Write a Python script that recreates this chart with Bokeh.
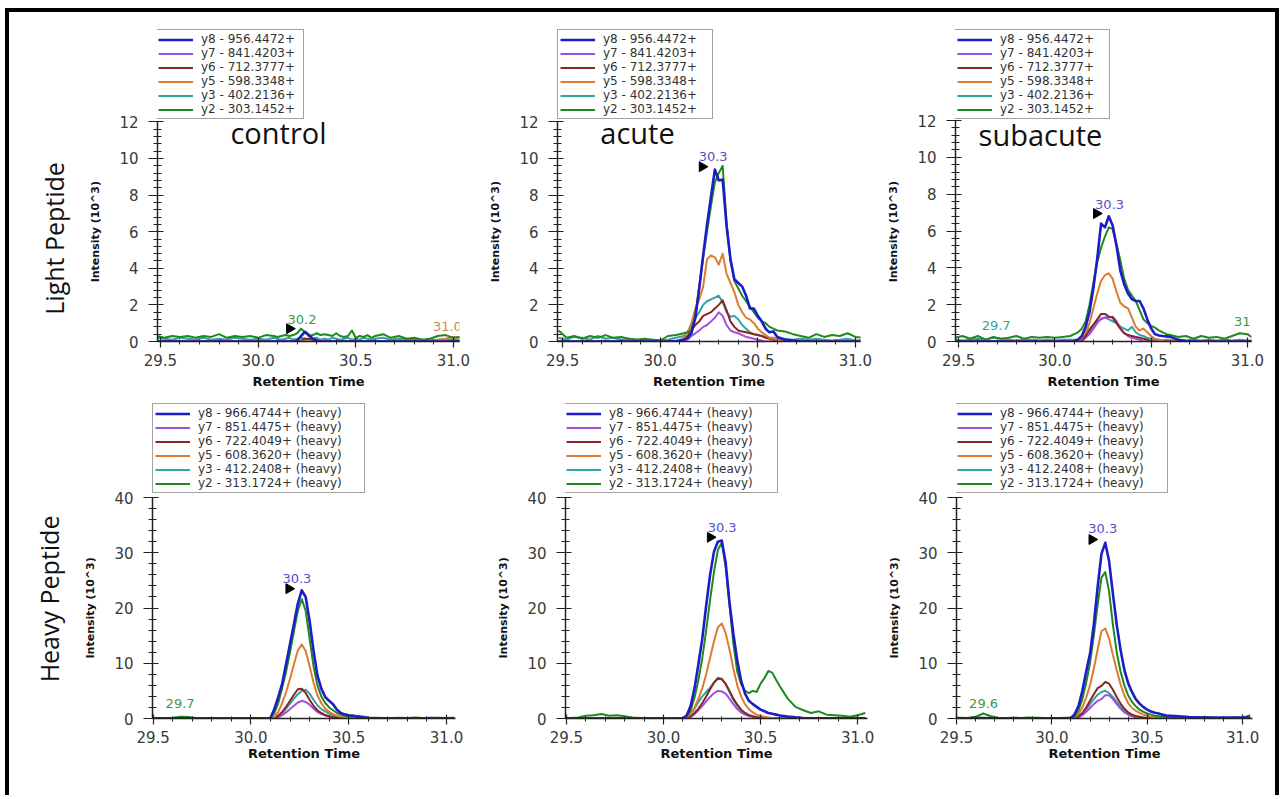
import numpy as np
from bokeh.plotting import figure
from bokeh.models import (Legend, LegendItem, Label, SingleIntervalTicker, FixedTicker,
                          NumeralTickFormatter, Range1d, ColumnDataSource, LinearAxis)
from bokeh.layouts import row, column
from bokeh.embed import file_html
from bokeh.resources import INLINE
from bokeh.core.properties import value

# ---------------- data ----------------
T = [29.48, 29.52, 29.56, 29.60, 29.64, 29.68, 29.72, 29.76, 29.80, 29.84, 29.88, 29.92, 29.96, 30.00, 30.04, 30.08,
     30.10, 30.12, 30.14, 30.16, 30.18, 30.20, 30.22, 30.24, 30.26, 30.28, 30.30, 30.32, 30.34, 30.36, 30.38, 30.40,
     30.42, 30.44, 30.46, 30.48, 30.50, 30.52, 30.54, 30.56, 30.58, 30.60,
     30.64, 30.68, 30.72, 30.76, 30.80, 30.84, 30.88, 30.92, 30.96, 31.00, 31.04]

LIGHT_IONS = ["y8 - 956.4472+", "y7 - 841.4203+", "y6 - 712.3777+",
              "y5 - 598.3348+", "y3 - 402.2136+", "y2 - 303.1452+"]
HEAVY_IONS = ["y8 - 966.4744+ (heavy)", "y7 - 851.4475+ (heavy)", "y6 - 722.4049+ (heavy)",
              "y5 - 608.3620+ (heavy)", "y3 - 412.2408+ (heavy)", "y2 - 313.1724+ (heavy)"]
CONDITIONS = ["control", "acute", "subacute"]
ROW_LABELS = ["Light Peptide", "Heavy Peptide"]

# control, light
ctl_L_y8 = [0,0,0,0,0,0,0,0,0,0,0,0,0,0,0,0,
            0,0,0,0,0,0.05,0.3,0.53,0.35,0.15,0.05,0,0,0,0,0,0,0,0,0,0,0,0,0,0,0,
            0,0,0,0,0,0,0,0,0,0,0]
ctl_L_y7 = [0,0,0,0,0,0,0,0,0,0,0,0,0,0,0,0,
            0,0,0,0,0,0,0,0.1,0.15,0.1,0,0,0,0,0,0,0,0,0,0,0,0,0,0,0,0,
            0,0,0,0,0,0,0,0,0,0,0]
ctl_L_y6 = [0,0,0,0,0,0,0,0,0,0,0,0,0,0,0,0,
            0,0,0,0,0,0,0.05,0.15,0.15,0.1,0.05,0,0,0,0,0,0,0,0,0,0,0,0,0,0,0,
            0,0,0,0,0,0,0,0,0,0,0]
ctl_L_y5 = [0,0,0,0,0,0,0,0,0,0,0,0,0,0,0,0,
            0,0,0,0,0,0,0,0,0,0,0,0,0,0,0,0,0,0,0,0,0,0,0,0,0,0,
            0,0,0,0,0,0,0.05,0.1,0.15,0.25,0.2]
ctl_L_y3 = [0.2,0.15,0.1,0.2,0.15,0.1,0.2,0.1,0.15,0.1,0.2,0.15,0.1,0.15,0.1,0.2,
            0.15,0.1,0.15,0.2,0.1,0.15,0.2,0.15,0.1,0.15,0.2,0.1,0.15,0.1,0.2,0.15,0.1,0.15,0.2,0.1,0.15,0.1,0.2,0.15,0.1,0.15,
            0.2,0.1,0.15,0.1,0.15,0.1,0.05,0.1,0.15,0.1,0.1]
ctl_L_y2 = [0.3,0.2,0.3,0.25,0.3,0.2,0.3,0.25,0.4,0.2,0.3,0.25,0.3,0.2,0.35,0.3,
            0.25,0.3,0.35,0.3,0.35,0.45,0.7,0.5,0.3,0.35,0.45,0.35,0.4,0.35,0.3,0.45,0.3,0.25,0.3,0.6,0.2,0.3,0.25,0.35,0.2,0.3,
            0.4,0.2,0.3,0.15,0.2,0.1,0.15,0.3,0.35,0.2,0.25]

# acute, light
acu_L_y8 = [0,0,0,0,0,0,0,0,0,0,0,0,0,0,0,0.02,
            0.05,0.1,0.2,0.45,1.3,2.9,4.7,6.4,7.9,9.4,8.8,8.85,6.3,4.5,3.4,3.2,3.0,2.5,1.8,1.8,1.4,1.1,0.7,0.5,0.55,0.25,
            0.1,0.05,0,0,0,0,0,0,0,0,0]
acu_L_y7 = [0,0,0,0,0,0,0,0,0,0,0,0,0,0,0,0,
            0,0,0.1,0.3,0.45,0.6,0.8,0.9,1.1,1.3,1.6,1.4,0.9,0.6,0.5,0.45,0.35,0.25,0.2,0.15,0.1,0.05,0,0,0,0,
            0,0,0,0,0,0,0,0,0,0,0]
acu_L_y6 = [0,0,0,0,0,0,0,0,0,0,0,0,0,0,0,0,
            0,0.1,0.3,0.6,0.9,1.1,1.4,1.5,1.6,1.8,2.0,2.25,1.7,1.1,0.8,0.6,0.55,0.5,0.45,0.4,0.35,0.3,0.2,0.15,0.1,0.05,
            0,0,0,0,0,0,0,0,0,0,0]
acu_L_y5 = [0,0,0,0,0,0,0,0,0,0,0,0,0,0,0,0,
            0.05,0.2,0.5,1.0,1.8,2.3,3.0,4.5,4.7,4.6,4.2,4.8,3.7,3.2,2.7,2.0,1.6,1.3,1.2,1.0,0.7,0.5,0.35,0.2,0.15,0.1,
            0,0,0,0,0,0,0,0,0,0,0]
acu_L_y3 = [0.2,0.1,0.25,0.2,0.1,0.3,0.15,0.2,0.1,0.15,0.1,0.05,0.1,0.05,0.1,0.2,
            0.25,0.3,0.5,0.8,1.3,1.6,2.0,2.2,2.3,2.4,2.5,2.15,1.6,1.35,1.4,1.2,0.9,0.7,0.5,0.4,0.35,0.3,0.25,0.2,0.2,0.15,
            0.15,0.1,0.15,0.1,0.15,0.1,0.05,0.1,0.15,0.05,0.1]
acu_L_y2 = [0.6,0.2,0.3,0.15,0.3,0.2,0.35,0.2,0.25,0.15,0.1,0.15,0.1,0.05,0.3,0.35,
            0.4,0.45,0.5,0.6,1.4,3.0,4.6,6.0,7.4,8.7,9.2,9.6,6.5,4.4,3.3,2.9,2.5,2.2,1.9,1.6,1.3,1.1,1.0,0.8,0.7,0.6,
            0.55,0.4,0.3,0.2,0.4,0.25,0.35,0.3,0.45,0.25,0.2]

# subacute, light
sub_L_y8 = [0,0,0,0,0,0,0,0,0,0,0,0,0,0,0,0,
            0,0.1,0.3,0.8,1.6,2.9,4.5,6.4,6.2,6.8,6.3,5.2,3.85,3.1,2.6,2.3,2.2,2.2,1.8,1.2,0.7,0.4,0.33,0.3,0.28,0.25,
            0.1,0.03,0,0,0,0,0,0,0,0,0]
sub_L_y7 = [0,0,0,0,0,0,0,0,0,0,0,0,0,0,0,0,
            0,0,0,0.2,0.4,0.7,1.0,1.25,1.3,1.3,1.35,1.1,0.7,0.45,0.3,0.2,0.15,0.1,0,0,0,0,0,0,0,0,
            0,0,0,0,0,0,0,0,0,0,0]
sub_L_y6 = [0,0,0,0,0,0,0,0,0,0,0,0,0,0,0,0,
            0,0,0.1,0.3,0.6,0.9,1.2,1.5,1.5,1.35,1.3,1.0,0.7,0.45,0.35,0.3,0.25,0.2,0.15,0.1,0,0,0,0,0,0,
            0,0,0,0,0,0,0,0,0,0,0]
sub_L_y5 = [0,0,0,0,0,0,0,0,0,0,0,0,0,0,0,0,
            0,0.05,0.2,0.5,1.0,1.8,2.6,3.3,3.6,3.7,3.4,2.7,2.1,1.9,1.8,1.3,0.8,0.6,0.7,0.5,0.3,0.15,0.1,0,0,0,
            0,0,0,0,0,0,0,0,0,0,0]
sub_L_y3 = [0.1,0.05,0.1,0.15,0.1,0.2,0.15,0.1,0.05,0.1,0.1,0.05,0.1,0.05,0.1,0.1,
            0.1,0.1,0.2,0.4,0.7,0.9,1.1,1.2,1.3,1.2,1.1,1.0,0.8,0.7,0.6,0.8,0.5,0.35,0.3,0.2,0.15,0.1,0.1,0.05,0.1,0.05,
            0.1,0.05,0.1,0.05,0.1,0.05,0.1,0.05,0.1,0.05,0.05]
sub_L_y2 = [0.2,0.3,0.15,0.3,0.1,0.25,0.15,0.2,0.3,0.15,0.25,0.2,0.25,0.2,0.25,0.3,
            0.4,0.5,0.7,1.1,2.0,3.2,4.3,5.1,5.7,6.2,6.1,5.3,4.4,3.4,2.8,2.5,2.2,1.7,1.2,1.0,0.85,0.75,0.6,0.5,0.4,0.35,
            0.25,0.3,0.15,0.3,0.2,0.25,0.15,0.3,0.45,0.4,0.1]

# control, heavy
ctl_H_y8 = [0.05,0.05,0,0.05,0,0.05,0,0,0.05,0,0,0.05,0,0,0.05,0.05,
            0.1,1.7,3.9,6.3,9.9,13.5,17.1,20.8,23.2,22.0,17.7,12.3,7.8,5.4,3.9,3.2,2.6,1.6,1.0,0.75,0.6,0.55,0.35,0.25,0.15,0.1,
            0.05,0.05,0.05,0.05,0.05,0.05,0.05,0.1,0.05,0.05,0.1]
ctl_H_y7 = [0,0,0,0,0,0,0,0,0,0,0,0,0,0,0,0,
            0,0,0.2,0.6,1.1,1.7,2.3,2.9,3.2,3.0,2.5,1.8,1.2,0.8,0.6,0.4,0.25,0.15,0.1,0,0,0,0,0,0,0,
            0,0,0,0,0,0,0,0,0,0,0]
ctl_H_y6 = [0,0,0,0,0,0,0,0,0,0,0,0,0,0,0,0,
            0,0.1,0.5,1.2,2.1,3.2,4.3,5.3,5.4,4.6,3.4,2.3,1.5,1.0,0.6,0.4,0.25,0.15,0.1,0,0,0,0,0,0,0,
            0,0,0,0,0,0,0,0,0,0,0]
ctl_H_y5 = [0,0,0,0,0,0,0,0,0,0,0,0,0,0,0,0,
            0,0.3,1.2,2.8,4.8,7.2,9.8,12.3,13.4,12.2,9.5,6.5,4.2,2.8,1.8,1.2,0.8,0.5,0.3,0.2,0.1,0,0,0,0,0,
            0,0,0,0,0,0,0,0,0,0,0]
ctl_H_y3 = [0,0,0,0,0,0,0,0,0,0,0,0,0,0,0,0,
            0,0.1,0.4,1.0,1.8,2.7,3.6,4.4,5.0,5.2,4.5,3.4,2.4,1.7,1.3,0.9,0.6,0.4,0.25,0.15,0.1,0,0,0,0,0,
            0,0,0,0,0,0,0,0,0,0,0]
ctl_H_y2 = [0.1,0.05,0.1,0.15,0.3,0.25,0.1,0.05,0.1,0.05,0.1,0.05,0.05,0.1,0.05,0.1,
            0.05,1.0,2.8,5.5,8.5,12.0,15.8,19.5,21.6,19.5,14.5,9.5,6.0,4.0,2.8,2.0,1.5,1.0,0.7,0.5,0.4,0.3,0.5,0.4,0.3,0.2,
            0.15,0.1,0.1,0.15,0.1,0.2,0.1,0.1,0.15,0.1,0.1]

# acute, heavy
acu_H_y8 = [0,0,0,0,0,0,0,0,0,0,0,0,0,0,0,0,
            0,0.6,2.3,5.5,9.9,14.5,20.5,26.0,30.2,32.0,32.2,28.3,21.0,15.3,10.5,6.8,4.5,3.2,2.6,2.1,1.6,1.3,1.0,0.85,0.7,0.55,
            0.35,0.2,0.1,0.05,0.05,0.05,0.05,0.05,0.05,0.05,0.05]
acu_H_y7 = [0,0,0,0,0,0,0,0,0,0,0,0,0,0,0,0,
            0,0,0.3,0.8,1.5,2.3,3.1,3.9,4.6,5.0,4.9,4.5,3.6,2.6,1.7,1.1,0.7,0.45,0.3,0.2,0.1,0,0,0,0,0,
            0,0,0,0,0,0,0,0,0,0,0]
acu_H_y6 = [0,0,0,0,0,0,0,0,0,0,0,0,0,0,0,0,
            0,0.1,0.4,1.0,1.8,2.8,4.0,5.3,6.5,7.2,7.1,6.3,5.0,3.6,2.5,1.6,1.0,0.6,0.4,0.25,0.15,0.1,0,0,0,0,
            0,0,0,0,0,0,0,0,0,0,0]
acu_H_y5 = [0,0,0,0,0,0,0,0,0,0,0,0,0,0,0,0,
            0,0.2,0.8,2.0,3.6,5.5,8.0,11.0,14.0,16.5,17.2,15.5,12.5,9.0,6.0,4.0,2.6,1.7,1.1,0.7,0.45,0.3,0.2,0.1,0,0,
            0,0,0,0,0,0,0,0,0,0,0]
acu_H_y3 = [0,0,0,0,0,0,0,0,0,0,0,0,0,0,0,0,
            0,0.2,0.8,1.8,3.0,4.0,4.8,5.6,6.5,7.4,7.2,6.2,4.8,3.4,2.3,1.5,1.0,0.6,0.4,0.25,0.15,0.1,0.1,0.05,0.05,0.05,
            0,0,0,0,0,0,0,0,0,0,0]
acu_H_y2 = [0.1,0.1,0.2,0.5,0.6,0.8,0.5,0.6,0.4,0.2,0.1,0.1,0.05,0.05,0.1,0.1,
            0.1,0.3,1.5,3.8,7.0,11.0,16.0,21.5,26.5,30.5,31.8,27.5,20.5,13.5,8.5,6.2,5.0,4.6,5.0,4.8,6.3,7.3,8.6,8.3,7.0,5.8,
            3.6,2.1,1.5,1.0,1.3,0.7,0.6,0.5,0.3,0.6,1.0]

# subacute, heavy
sub_H_y8 = [0.05,0.05,0.05,0.1,0.1,0.05,0.05,0.05,0.05,0.05,0.05,0.05,0.05,0.05,0.05,0.05,
            0.05,0.8,2.3,5.0,8.5,11.7,17.0,23.8,29.8,31.8,28.5,22.6,17.0,12.5,8.8,6.4,4.8,3.5,2.7,2.05,1.6,1.25,1.05,0.9,0.7,0.55,
            0.45,0.35,0.25,0.2,0.15,0.15,0.15,0.15,0.15,0.15,0.15]
sub_H_y7 = [0,0,0,0,0,0,0,0,0,0,0,0,0,0,0,0,
            0,0,0.2,0.6,1.2,1.9,2.6,3.2,3.5,4.2,4.2,3.5,2.6,1.8,1.1,0.7,0.4,0.25,0.15,0.1,0,0,0,0,0,0,
            0,0,0,0,0,0,0,0,0,0,0]
sub_H_y6 = [0,0,0,0,0,0,0,0,0,0,0,0,0,0,0,0,
            0,0.1,0.4,1.0,2.0,3.2,4.4,5.5,5.9,6.6,6.3,5.2,3.9,2.7,1.8,1.1,0.7,0.45,0.3,0.2,0.1,0,0,0,0,0,
            0,0,0,0,0,0,0,0,0,0,0]
sub_H_y5 = [0,0,0,0,0,0,0,0,0,0,0,0,0,0,0,0,
            0,0.2,0.8,2.0,3.8,6.0,9.0,12.5,15.8,16.3,14.5,11.5,8.8,6.2,4.2,2.8,1.9,1.4,1.0,0.7,0.5,0.3,0.2,0.15,0.1,0.1,
            0.05,0.05,0.05,0,0,0,0,0,0,0,0]
sub_H_y3 = [0,0,0,0,0,0,0,0,0,0,0,0,0,0,0,0,
            0,0,0.3,0.8,1.6,2.6,3.5,4.3,4.8,5.0,4.6,3.9,3.0,2.1,1.4,0.9,0.6,0.4,0.25,0.15,0.1,0,0,0,0,0,
            0,0,0,0,0,0,0,0,0,0,0]
sub_H_y2 = [0.1,0.15,0.1,0.3,0.9,0.4,0.15,0.1,0.15,0.1,0.2,0.15,0.1,0.1,0.1,0.15,
            0.15,0.4,1.5,3.5,6.5,10.0,15.0,20.5,25.5,26.5,23.0,17.0,12.0,8.5,6.0,4.2,3.0,2.2,1.6,1.2,0.9,0.7,0.5,0.4,0.3,0.25,
            0.2,0.15,0.2,0.15,0.3,0.15,0.1,0.1,0.2,0.1,0.6]

# peak annotations (label text, retention time, intensity) and apex arrows
ANN_TEXT = [["30.2", "31.0"], ["30.3"], ["30.3", "29.7", "31.0"],
            ["30.3", "29.7"], ["30.3"], ["30.3", "29.6"]]
ANN_X = [[30.225, 30.969], [30.271], [30.284, 29.695, 31.005],
         [30.235, 29.638], [30.302], [30.267, 29.642]]
ANN_Y = [[1.19, 0.8], [10.1], [7.44, 0.87, 1.09],
         [25.3, 2.7], [34.6], [34.4, 2.7]]
ANN_COLOR = [["#3c9c3c", "#d08848"], ["#5252d2"], ["#5252d2", "#3aa2a2", "#3c9c3c"],
             ["#5252d2", "#3c9c3c"], ["#5252d2"], ["#5252d2", "#3c9c3c"]]
ARROW_X = [[30.161], [30.215], [30.216], [30.194], [30.241], [30.21]]
ARROW_Y = [[0.7], [9.55], [6.95], [23.5], [32.8], [32.4]]

# ---------------- styling ----------------
ION_COLORS = ["#1c1cc8", "#a24ede", "#8c2424", "#e07a30", "#2ea4a4", "#1f881f"]
ION_WIDTHS = [2.6, 2, 2, 2, 2, 2]
DRAW_ORDER = [4, 1, 2, 3, 5, 0]

SERIES = [
    [ctl_L_y8, ctl_L_y7, ctl_L_y6, ctl_L_y5, ctl_L_y3, ctl_L_y2],
    [acu_L_y8, acu_L_y7, acu_L_y6, acu_L_y5, acu_L_y3, acu_L_y2],
    [sub_L_y8, sub_L_y7, sub_L_y6, sub_L_y5, sub_L_y3, sub_L_y2],
    [ctl_H_y8, ctl_H_y7, ctl_H_y6, ctl_H_y5, ctl_H_y3, ctl_H_y2],
    [acu_H_y8, acu_H_y7, acu_H_y6, acu_H_y5, acu_H_y3, acu_H_y2],
    [sub_H_y8, sub_H_y7, sub_H_y6, sub_H_y5, sub_H_y3, sub_H_y2],
]

# geometry per panel: width, height, borders (l, r, t, b), x range, legend offset, label width
AXIS_PX = 221   # pixel height of the 0..max part of each intensity axis
GEOM = [
    dict(w=471, h=383, l=148, r=21, t=6, b=52, xr=(29.485, 31.031), leg=(-2, 222), lw=100),
    dict(w=400, h=383, l=77, r=20, t=6, b=52, xr=(29.474, 31.026), leg=(0, 222), lw=107),
    dict(w=395, h=383, l=75, r=24, t=6, b=54, xr=(29.484, 31.021), leg=(-1, 222), lw=107),
    dict(w=471, h=400, l=143, r=25, t=6, b=77, xr=(29.497, 31.046), leg=(0, 225), lw=164),
    dict(w=400, h=400, l=85, r=13, t=6, b=77, xr=(29.495, 31.051), leg=(-2, 225), lw=166),
    dict(w=395, h=400, l=76, r=23, t=6, b=77, xr=(29.500, 31.052), leg=(-2, 225), lw=165),
]
TITLE_POS = [(121, 209), (80, 209), (85, 207)]
# where (pixels above frame bottom) the centre of each rotated label should sit
INTENSITY_CENTER = [111, 111, 109, 111, 111, 111]
ROWLABEL_CENTER = [103, 121]
NBSP = "\u00a0"

AXIS_COLOR = "#222222"
TICK_LABEL_COLOR = "#3a3a3a"


def centred_label(text, frame_h, want_center, space_px):
    # pad a rotated axis label with non-breaking spaces so its visible part sits lower
    shift = frame_h / 2.0 - want_center
    n = max(0, int(round(2 * shift / space_px)))
    return text + NBSP * n


def make_panel(i):
    g = GEOM[i]
    heavy = i >= 3
    ymax = 40 if heavy else 12
    frame_h = g["h"] - g["t"] - g["b"]
    ytop = frame_h * ymax / AXIS_PX
    p = figure(width=g["w"], height=g["h"], output_backend="svg", toolbar_location=None,
               x_range=Range1d(*g["xr"]), y_range=Range1d(0, ytop),
               min_border_left=g["l"], min_border_right=g["r"],
               min_border_top=g["t"], min_border_bottom=g["b"])
    p.outline_line_color = None
    p.grid.visible = False
    p.background_fill_color = "white"
    p.border_fill_color = "white"

    renderers = [None] * 6
    for k in DRAW_ORDER:
        src = ColumnDataSource(dict(t=T, v=SERIES[i][k]))
        renderers[k] = p.line("t", "v", source=src, line_color=ION_COLORS[k],
                              line_width=ION_WIDTHS[k], line_join="round")

    # peak labels and apex arrows
    asrc = ColumnDataSource(dict(x=ANN_X[i], y=ANN_Y[i], text=ANN_TEXT[i], color=ANN_COLOR[i]))
    p.text("x", "y", text="text", source=asrc, text_color="color",
           text_font=value("DejaVu Sans"), text_font_size="13px",
           text_align="center", text_baseline="middle")
    p.scatter(ARROW_X[i], ARROW_Y[i], marker="triangle", angle=-np.pi / 2,
              size=10, color="black")

    # axes
    xa = p.xaxis[0]
    xa.ticker = SingleIntervalTicker(interval=0.5, num_minor_ticks=5)
    xa.formatter = NumeralTickFormatter(format="0.0")
    xa.axis_label = "Retention Time"
    ya = p.yaxis[0]
    ya.ticker = SingleIntervalTicker(interval=10 if heavy else 2, num_minor_ticks=5)
    ya.bounds = (0, ymax)
    ya.axis_label = centred_label("Intensity (10^3)", frame_h, INTENSITY_CENTER[i], 0.348 * 11)
    for ax in (xa, ya):
        ax.axis_line_color = AXIS_COLOR
        ax.axis_line_width = 1.5
        ax.major_tick_line_color = AXIS_COLOR
        ax.minor_tick_line_color = AXIS_COLOR
        ax.major_tick_line_width = 1.2
        ax.minor_tick_line_width = 1
        ax.major_label_text_font = "DejaVu Sans"
        ax.major_label_text_font_size = "15px"
        ax.major_label_text_color = TICK_LABEL_COLOR
        ax.axis_label_text_font = "DejaVu Sans"
        ax.axis_label_text_font_style = "bold"
        ax.axis_label_text_color = "#111111"
    xa.major_tick_out = 6
    xa.major_tick_in = 4
    xa.minor_tick_out = 3
    xa.minor_tick_in = 2
    xa.major_label_standoff = 6
    xa.axis_label_standoff = 0 if heavy else 5
    xa.axis_label_text_font_size = "13px"
    ya.major_tick_out = 9
    ya.major_tick_in = 6
    ya.minor_tick_out = 4
    ya.minor_tick_in = 4
    ya.major_label_standoff = 10
    ya.axis_label_standoff = 14
    ya.axis_label_text_font_size = "11px"

    # legend above the intensity axis
    names = HEAVY_IONS if heavy else LIGHT_IONS
    items = [LegendItem(label=names[k], renderers=[renderers[k]]) for k in range(6)]
    leg = Legend(items=items, location=g["leg"], orientation="vertical",
                 glyph_width=35, glyph_height=13, label_height=13, label_width=g["lw"],
                 label_standoff=8, padding=2, spacing=0, margin=0,
                 border_line_color="#444444", border_line_width=1,
                 background_fill_color="white", background_fill_alpha=1,
                 label_text_font="DejaVu Sans", label_text_font_size="12px",
                 label_text_line_height=1.0, label_text_color="#333333")
    p.add_layout(leg)

    if not heavy:
        tx, ty = TITLE_POS[i]
        p.add_layout(Label(x=tx, y=ty, x_units="screen", y_units="screen",
                           text=CONDITIONS[i], text_font="Open Sans", text_font_size="29px",
                           text_color="#111111", text_align="center", text_baseline="alphabetic"))
    if i in (0, 3):
        r = i // 3
        row_axis = LinearAxis(axis_label=centred_label(ROW_LABELS[r], frame_h, ROWLABEL_CENTER[r], 0.26 * 25),
                              ticker=FixedTicker(ticks=[]),
                              axis_line_color=None, major_tick_line_color=None,
                              minor_tick_line_color=None, major_tick_out=0, major_tick_in=0,
                              minor_tick_out=0, minor_tick_in=0, major_label_standoff=0,
                              axis_label_standoff=16, axis_label_text_font="Open Sans",
                              axis_label_text_font_size="25px", axis_label_text_font_style="normal",
                              axis_label_text_color="#111111")
        p.add_layout(row_axis, "left")
    return p


panels = [make_panel(i) for i in range(6)]
layout = column(row(panels[0], panels[1], panels[2], spacing=0),
                row(panels[3], panels[4], panels[5], spacing=0),
                spacing=0,
                styles={"margin-top": "8px", "margin-left": "5px",
                        "border-top": "4px solid black", "border-left": "4px solid black",
                        "border-right": "4px solid black", "background-color": "white"})

open("out.html", "w").write(file_html(layout, INLINE))
